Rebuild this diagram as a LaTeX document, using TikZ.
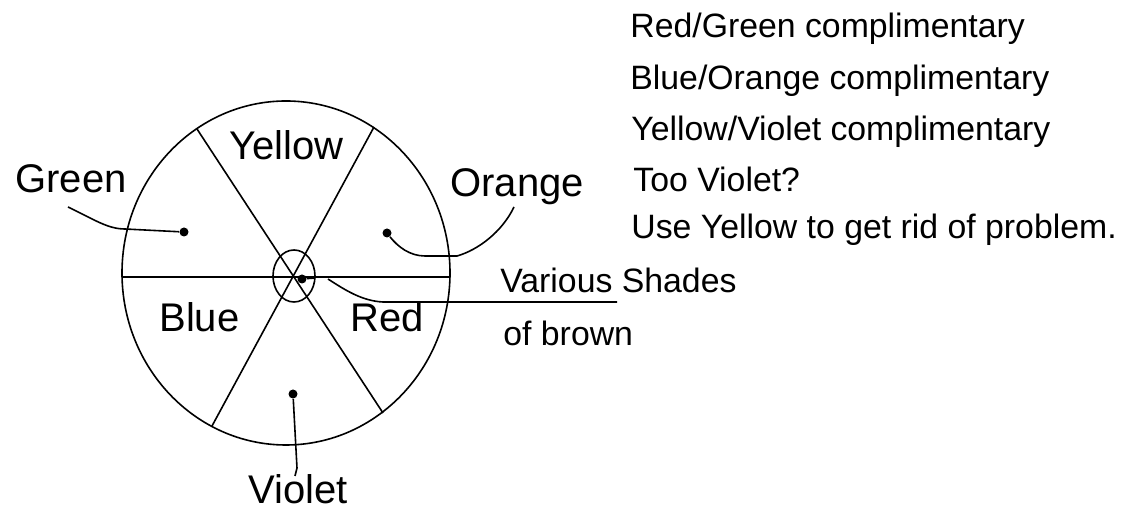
\documentclass[tikz,border=0pt]{standalone}
\usepackage{fontspec}
\setmainfont{Liberation Sans}
\begin{document}
\begin{tikzpicture}[x=0.5pt,y=-0.5pt,
  lbl/.style={inner sep=0pt, anchor=base west, font=\fontsize{20}{24}\selectfont},
  note/.style={inner sep=0pt, anchor=base west, font=\fontsize{16.9}{20}\selectfont},
  ln/.style={line width=0.8pt},
  lead/.style={line width=0.8pt},
  dotmark/.style={circle, fill, inner sep=0pt, minimum size=4.5pt}]
\useasboundingbox (0,0) rectangle (1126,512);

% wheel
\draw[ln] (286,273) ellipse [x radius=164, y radius=172];
\coordinate (wl) at (122,277);
\coordinate (wr) at (450,277);
\coordinate (a1) at (197,129);
\coordinate (a2) at (383,413);
\coordinate (b1) at (374,127);
\coordinate (b2) at (212,426);
\draw[ln] (wl) -- (wr);
\draw[ln] (a1) -- (a2);
\draw[ln] (b1) -- (b2);
\draw[ln] (294,276) ellipse [x radius=21, y radius=26];

% sector labels
\node[lbl] (yellow) at (229,160) {Yellow};
\node[lbl] (blue) at (159,332) {Blue};
\node[lbl] (red) at (350,332) {Red};
\node[lbl] (green) at (15,193) {Green};
\node[lbl] (orange) at (450,197) {Orange};
\node[lbl] (violet) at (248,504) {Violet};

% dots
\node[dotmark] (gdot) at (184,232) {};
\node[dotmark] (odot) at (387,233) {};
\node[dotmark] (vdot) at (293,394) {};
\node[dotmark] (bdot) at (302,279) {};

% leaders
\coordinate (gtail) at (68,207);
\draw[lead] (gtail) .. controls (95,220) and (108,229) .. (125,229) -- (gdot);
\coordinate (otail) at (514,207);
\draw[lead] (odot) .. controls (398,247) and (410,256) .. (425,256) -- (457,256)
  .. controls (478,250) and (502,232) .. (otail);
\coordinate (vtail) at (295,476);
\draw[lead] (vdot) -- (297,468) -- (vtail);
\coordinate (btick) at (315,278);
\draw[lead] (bdot) -- (btick);
\coordinate (bstart) at (328,279);
\coordinate (bend) at (617,302);
\draw[lead] (bstart) .. controls (345,290) and (362,301) .. (383,302) -- (bend);

% notes
\node[note] (n1) at (630,38) {Red/Green complimentary};
\node[note] (n2) at (630,90) {Blue/Orange complimentary};
\node[note] (n3) at (631,141) {Yellow/Violet complimentary};
\node[note] (n4) at (633,192) {Too Violet?};
\node[note] (n5) at (631,239) {Use Yellow to get rid of problem.};
\node[note] (n6) at (500,293) {Various Shades};
\node[note] (n7) at (503,346) {of brown};
\end{tikzpicture}
\end{document}
